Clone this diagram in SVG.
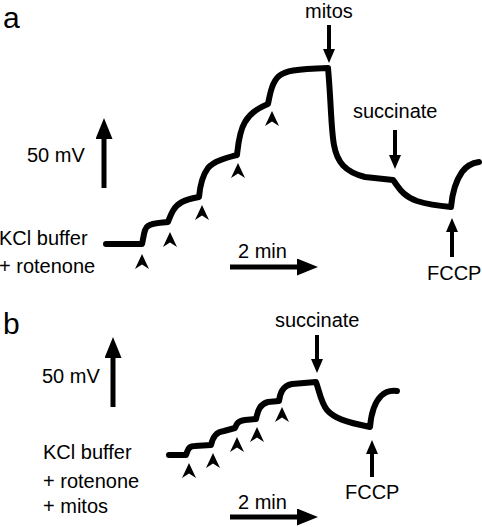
<svg xmlns="http://www.w3.org/2000/svg" xmlns:xlink="http://www.w3.org/1999/xlink" width="482" height="527" viewBox="0 0 482 527">
<style>
text{font-family:"Liberation Sans",Arial,sans-serif;font-size:20px;fill:#000}
.panel{font-size:30px}
.trace{fill:none;stroke:#000;stroke-width:6;stroke-linejoin:round;stroke-linecap:round}
.big{stroke:#000;stroke-width:5;fill:none}
.small{stroke:#000;stroke-width:4;fill:none}
.chev{fill:#000}
</style>
<defs>
<marker id="headBig" markerUnits="userSpaceOnUse" markerWidth="22" markerHeight="18" refX="0" refY="8.5" orient="auto" viewBox="0 0 22 18">
<path d="M0,0 L21,8.5 L0,17 z" fill="#000"/>
</marker>
<marker id="headSmall" markerUnits="userSpaceOnUse" markerWidth="15" markerHeight="13" refX="0" refY="6" orient="auto" viewBox="0 0 15 13">
<path d="M0,0 L14,6 L0,12 z" fill="#000"/>
</marker>
<path id="chevron" d="M0,0 L7,15 L0,10.5 L-7,15 z"/>
</defs>

<g id="panel-a">
<text id="label-a" class="panel" x="3" y="28">a</text>
<g id="trace-a"><path class="trace" d="M106,244 L142,244 C144,236 144,228 148,226 C152,223 160,223 168,222 C171,214 174,206 182,202 C188,199 194,198 199,197 C200,186 202,176 208,168 C214,161 226,158 237,155 C238,146 239,132 245,122 C250,113 258,108 268,104 C270,94 272,82 279,76 C285,71 295,69 328,68 C331,100 331,130 334,145 C337,162 345,172 365,177 L393,180 C398,186 402,196 417,201 C430,205 440,206 451,207 C452,196 455,182 462,172 C467,165 472,163 479,162"/></g>
<g id="additions-a" class="chev">
<use xlink:href="#chevron" x="142" y="254"/>
<use xlink:href="#chevron" x="170" y="232"/>
<use xlink:href="#chevron" x="202" y="205"/>
<use xlink:href="#chevron" x="238" y="163"/>
<use xlink:href="#chevron" x="272" y="111"/>
</g>
<g id="scale-a">
<line class="big" x1="104" y1="188" x2="104" y2="139" marker-end="url(#headBig)"/>
<text x="27" y="162">50 mV</text>
<line class="big" x1="230" y1="267" x2="297" y2="267" marker-end="url(#headBig)"/>
<text x="238" y="258">2 min</text>
</g>
<g id="mitos-a">
<text x="305" y="18">mitos</text>
<line class="small" x1="329" y1="25" x2="329" y2="49" marker-end="url(#headSmall)"/>
</g>
<g id="succinate-a">
<text x="353" y="118">succinate</text>
<line class="small" x1="395" y1="130" x2="395" y2="155" marker-end="url(#headSmall)"/>
</g>
<g id="fccp-a">
<line class="small" x1="452" y1="257" x2="452" y2="232" marker-end="url(#headSmall)"/>
<text x="427" y="280">FCCP</text>
</g>
<g id="buffer-a">
<text x="-1" y="245">KCl buffer</text>
<text x="-1" y="273">+ rotenone</text>
</g>
</g>

<g id="panel-b">
<text id="label-b" class="panel" x="3" y="334">b</text>
<g id="trace-b"><path class="trace" d="M169,455 L186,455 C188,449 189,446 195,446 L211,445 C213,437 216,432 224,431 L235,428 C237,423 238,421 245,420 L256,419 C258,410 260,404 268,402 L279,401 C280,394 282,386 292,384 L316,382 C319,390 321,403 327,410 C334,418 345,422 370,427 C371,415 374,403 381,396 C385,392 390,390 397,391"/></g>
<g id="additions-b" class="chev">
<use xlink:href="#chevron" x="189" y="463"/>
<use xlink:href="#chevron" x="213" y="453"/>
<use xlink:href="#chevron" x="237" y="437"/>
<use xlink:href="#chevron" x="257" y="427"/>
<use xlink:href="#chevron" x="282" y="407"/>
</g>
<g id="scale-b">
<line class="big" x1="113" y1="407" x2="113" y2="358" marker-end="url(#headBig)"/>
<text x="42" y="383">50 mV</text>
<line class="big" x1="230" y1="517" x2="297" y2="517" marker-end="url(#headBig)"/>
<text x="238" y="509">2 min</text>
</g>
<g id="succinate-b">
<text x="275" y="327">succinate</text>
<line class="small" x1="317" y1="335" x2="317" y2="359" marker-end="url(#headSmall)"/>
</g>
<g id="fccp-b">
<line class="small" x1="372" y1="477" x2="372" y2="454" marker-end="url(#headSmall)"/>
<text x="345" y="499">FCCP</text>
</g>
<g id="buffer-b">
<text x="43" y="459">KCl buffer</text>
<text x="43" y="488">+ rotenone</text>
<text x="43" y="513">+ mitos</text>
</g>
</g>
</svg>
